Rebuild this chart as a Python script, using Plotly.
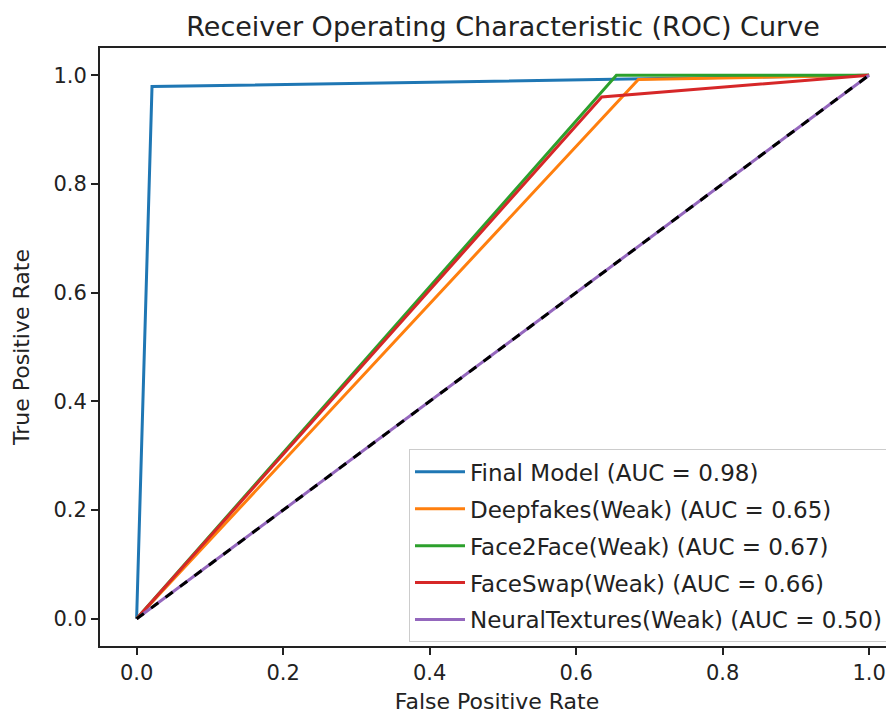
import plotly.graph_objects as go

title_text = "Receiver Operating Characteristic (ROC) Curve"
x_label = "False Positive Rate"
y_label = "True Positive Rate"

names = ["Final Model", "Deepfakes(Weak)", "Face2Face(Weak)", "FaceSwap(Weak)", "NeuralTextures(Weak)"]
auc_values = [0.98, 0.65, 0.67, 0.66, 0.50]
fpr_final = [0.0, 0.021, 1.0]
tpr_final = [0.0, 0.979, 1.0]
fpr_deepfakes = [0.0, 0.685, 1.0]
tpr_deepfakes = [0.0, 0.992, 1.0]
fpr_face2face = [0.0, 0.655, 1.0]
tpr_face2face = [0.0, 1.0, 1.0]
fpr_faceswap = [0.0, 0.635, 1.0]
tpr_faceswap = [0.0, 0.960, 1.0]
fpr_neural = [0.0, 1.0]
tpr_neural = [0.0, 1.0]
chance_x = [0.0, 1.0]
chance_y = [0.0, 1.0]
tick_vals = [0.0, 0.2, 0.4, 0.6, 0.8, 1.0]

colors = ["#1f77b4", "#ff7f0e", "#2ca02c", "#d62728", "#9467bd"]
fprs = [fpr_final, fpr_deepfakes, fpr_face2face, fpr_faceswap, fpr_neural]
tprs = [tpr_final, tpr_deepfakes, tpr_face2face, tpr_faceswap, tpr_neural]

FONT = "DejaVu Sans, Liberation Sans, sans-serif"
TXT = "#222222"

fig = go.Figure()
for i, name in enumerate(names):
    fig.add_trace(go.Scatter(
        x=fprs[i], y=tprs[i], mode="lines",
        name=f"{name} (AUC = {auc_values[i]:.2f})",
        line=dict(color=colors[i], width=3),
        legendgroup=f"g{i}",
    ))
fig.add_trace(go.Scatter(
    x=chance_x, y=chance_y, mode="lines", showlegend=False,
    line=dict(color="black", width=3, dash="dash"),
))

axis_common = dict(
    showgrid=False, zeroline=False, showline=True, linecolor="#222222", linewidth=2,
    ticks="outside", ticklen=7, tickwidth=1.5, tickcolor="#222222",
    tickvals=tick_vals, tickformat=".1f",
    tickfont=dict(family=FONT, size=21, color=TXT),
)

W, H = 886, 706
fig.update_layout(
    width=W, height=H,
    margin=dict(l=92, r=0, t=40, b=68),
    paper_bgcolor="white", plot_bgcolor="white",
    title=dict(text=title_text, x=495 / W, xanchor="center", y=1 - 19 / H, yanchor="middle",
               font=dict(family=FONT, size=27, color=TXT)),
    xaxis=dict(range=[-0.05, 1.034], mirror=True,
               title=dict(text=x_label, font=dict(family=FONT, size=22, color=TXT), standoff=10),
               **axis_common),
    yaxis=dict(range=[-0.05, 1.05], mirror=False,
               title=dict(text=y_label, font=dict(family=FONT, size=22, color=TXT), standoff=18),
               **axis_common),
    legend=dict(x=(401 - 92) / 794, y=0.006, xanchor="left", yanchor="bottom",
                bgcolor="rgba(255,255,255,0.8)", bordercolor="#cccccc", borderwidth=1,
                font=dict(family=FONT, size=23, color=TXT), tracegroupgap=4, itemwidth=50),
)

fig.write_html("out.html")
